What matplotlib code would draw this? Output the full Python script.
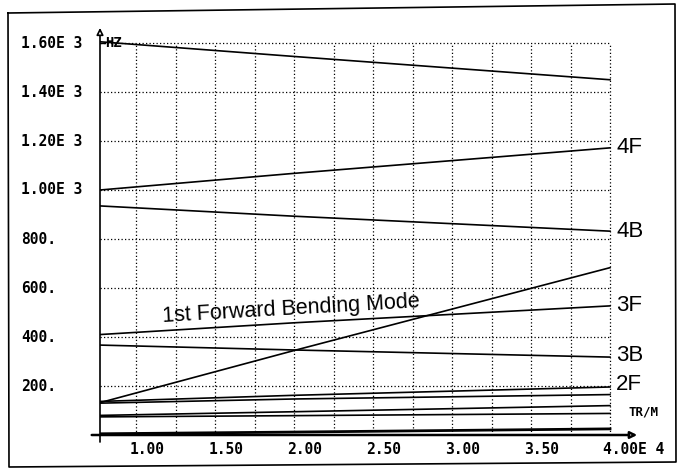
import matplotlib.pyplot as plt
from matplotlib.lines import Line2D

# Campbell diagram: frequency (HZ) vs speed (TR/M, x 1E4)
speed = [0.77, 2.00, 4.00]

mode_top = [1605, 1545, 1450]
mode_4f = [1000, 1068, 1172]
mode_4b = [935, 893, 832]
mode_bend = [132, 345, 683]
mode_3f = [410, 458, 527]
mode_3b = [367, 347, 318]
mode_2f = [137, 162, 196]
mode_2b = [130, 147, 165]
mode_1f = [80, 95, 120]
mode_1b = [74, 79, 88]
mode_0 = [5, 12, 25]

y_ticks = [200, 400, 600, 800, 1000, 1200, 1400, 1600]
y_labels = ["200.", "400.", "600.", "800.", "1.00E 3", "1.20E 3", "1.40E 3", "1.60E 3"]
x_ticks = [1.0, 1.5, 2.0, 2.5, 3.0, 3.5, 4.0]
x_labels = ["1.00", "1.50", "2.00", "2.50", "3.00", "3.50", "4.00E 4"]

mode_names = ["4F", "4B", "3F", "3B", "2F"]
mode_label_y = [1172, 832, 527, 325, 205]

W, H = 678, 469
fig = plt.figure(figsize=(W / 100, H / 100), dpi=100)


def px(x, y):
    return x / W, 1 - y / H


# Axes: x=0.77 at px 100, y=0 at px 435
left, bottom = px(100, 435)
right, top = px(640, 25)
ax = fig.add_axes([left, bottom, right - left, top - bottom])
ax.set_xlim(0.77, 0.77 + 540 * 3.23 / 510)
ax.set_ylim(0, 410 / 49 * 200)
ax.axis("off")

# dotted grid
for x in [1.0 + 0.25 * i for i in range(13)]:
    ax.plot([x, x], [0, 1600], color="black", lw=0.9, ls=(0, (1, 1.8)))
for y in y_ticks:
    ax.plot([0.77, 4.0], [y, y], color="black", lw=0.9, ls=(0, (1, 1.8)))

# mode lines
for m in [mode_top, mode_4f, mode_4b, mode_bend, mode_3f, mode_3b,
          mode_2f, mode_2b, mode_1f, mode_1b]:
    ax.plot(speed, m, color="black", lw=1.2)
ax.plot(speed, mode_0, color="black", lw=2.0)

# axes with open arrows
ax.annotate("", xy=(0.77, 1673), xytext=(0.77, -40),
            arrowprops=dict(arrowstyle="-|>", fc="white", ec="black",
                            lw=1.2, mutation_scale=10),
            annotation_clip=False)
ax.annotate("", xy=(4.19, 0), xytext=(0.70, 0),
            arrowprops=dict(arrowstyle="-|>", fc="white", ec="black",
                            lw=1.8, mutation_scale=10),
            annotation_clip=False)

mono = dict(family="DejaVu Sans Mono", fontweight="bold", fontsize=10.5)

for y, lab in zip(y_ticks, y_labels):
    fig.text(21 / W, 1 - (435 - y * 49 / 200) / H, lab, ha="left",
             va="center", **mono)
for x, lab in zip(x_ticks, x_labels):
    ax.text(x - 0.045, -30, lab, ha="left", va="top", clip_on=False, **mono)

ax.plot([0.77, 0.80], [1600, 1600], color="black", lw=1)
ax.text(0.80, 1600, "HZ", ha="left", va="center",
        family="DejaVu Sans Mono", fontweight="bold", fontsize=10)
ax.text(4.12, 92, "TR/M", ha="left", va="center", clip_on=False,
        family="DejaVu Sans Mono", fontweight="bold", fontsize=9)

for name, y in zip(mode_names, mode_label_y):
    ax.text(4.04, y, name, ha="left", va="center", clip_on=False,
            family="Liberation Sans", fontsize=16)

ax.text(1.17, 461, "1st Forward Bending Mode", ha="left", va="baseline",
        rotation=3.3, rotation_mode="anchor",
        family="Liberation Sans", fontsize=15.5)

# outer frame of the scanned page
frame = [(8, 13), (675, 4), (676, 462), (9, 467), (8, 13)]
fx = [px(a, b)[0] for a, b in frame]
fy = [px(a, b)[1] for a, b in frame]
fig.add_artist(Line2D(fx, fy, color="black", lw=1.2))

fig.savefig("out.png", dpi=100)
